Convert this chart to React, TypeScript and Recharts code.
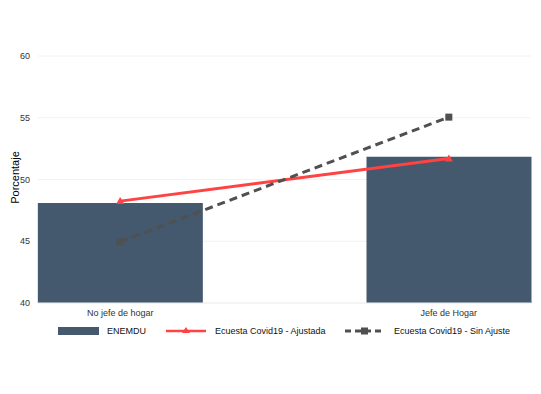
import React from 'react';
import { ComposedChart, Bar, Line, XAxis, YAxis, CartesianGrid, Label } from 'recharts';

const categories = ['No jefe de hogar', 'Jefe de Hogar'];
const enemdu = [48.1, 51.85];
const ajustada = [48.25, 51.7];
const sinAjuste = [44.95, 55.05];
const yTicks = [40, 45, 50, 55, 60];

const data = categories.map((c, i) => ({
  x: i,
  name: c,
  enemdu: enemdu[i],
  ajustada: ajustada[i],
  sinAjuste: sinAjuste[i],
}));

const BAR = '#44586e';
const RED = '#ff4242';
const DARK = '#505050';
const font = '"Liberation Sans", Arial, sans-serif';

const Triangle = (props: any) => {
  const { cx, cy } = props;
  if (cx == null || cy == null) return null;
  return <path d={`M${cx},${cy - 4} L${cx + 4},${cy + 3} L${cx - 4},${cy + 3} Z`} fill={RED} />;
};

const Square = (props: any) => {
  const { cx, cy } = props;
  if (cx == null || cy == null) return null;
  return <rect x={cx - 3.5} y={cy - 3.5} width={7} height={7} fill={DARK} />;
};

const ChartLegend = () => (
  <svg
    width={541}
    height={20}
    style={{ position: 'absolute', left: 0, top: 321, fontFamily: font, fontSize: 9 }}
  >
    <rect x={58} y={6} width={41} height={8} fill={BAR} />
    <text x={107} y={13} fill="#111">ENEMDU</text>
    <line x1={166} x2={206} y1={10} y2={10} stroke={RED} strokeWidth={2.5} />
    <path d="M186,6 L190,12 L182,12 Z" fill={RED} />
    <text x={215} y={13} fill="#111">Ecuesta Covid19 - Ajustada</text>
    <line x1={345} x2={384} y1={10} y2={10} stroke={DARK} strokeWidth={3} strokeDasharray="6 4" />
    <rect x={361} y={6.5} width={7} height={7} fill={DARK} />
    <text x={394} y={13} fill="#111">Ecuesta Covid19 - Sin Ajuste</text>
  </svg>
);

const YLabel = (props: any) => {
  const vb = props.viewBox || {};
  const cy = (vb.y ?? 56) + (vb.height ?? 247) / 2 - 2;
  return (
    <text
      x={16}
      y={cy}
      transform={`rotate(-90, 16, ${cy})`}
      textAnchor="middle"
      dominantBaseline="middle"
      fontSize={11}
      fill="#000"
      fontFamily={font}
    >
      Porcentaje
    </text>
  );
};

export default function App() {
  return (
    <div style={{ margin: -8, width: 541, height: 394, background: '#fff', position: 'relative' }}>
      <ComposedChart
        width={541}
        height={394}
        data={data}
        margin={{ top: 56, right: 10, bottom: 71, left: 0 }}
        style={{ fontFamily: font }}
      >
        <CartesianGrid horizontal vertical={false} stroke="#f2f2f2" strokeWidth={1} />
        <XAxis
          dataKey="x"
          type="number"
          domain={[-0.25, 1.25]}
          ticks={[0, 1]}
          tickFormatter={(v: number) => categories[v] ?? ''}
          axisLine={{ stroke: '#eeeeee' }}
          tickLine={false}
          tick={{ fontSize: 9, fill: '#333', fontFamily: font }}
          tickMargin={1}
          height={20}
        />
        <YAxis
          domain={[40, 60]}
          ticks={yTicks}
          axisLine={false}
          tickLine={false}
          width={38}
          tickMargin={2}
          tick={{ fontSize: 9, fill: '#333', fontFamily: font }}
        >
          <Label content={<YLabel />} />
        </YAxis>
        <Bar dataKey="enemdu" fill={BAR} barSize={165} isAnimationActive={false} />
        <Line
          dataKey="ajustada"
          stroke={RED}
          strokeWidth={3}
          dot={<Triangle />}
          activeDot={false}
          isAnimationActive={false}
        />
        <Line
          dataKey="sinAjuste"
          stroke={DARK}
          strokeWidth={3}
          strokeDasharray="8 5"
          dot={<Square />}
          activeDot={false}
          isAnimationActive={false}
        />
      </ComposedChart>
      <ChartLegend />
    </div>
  );
}
